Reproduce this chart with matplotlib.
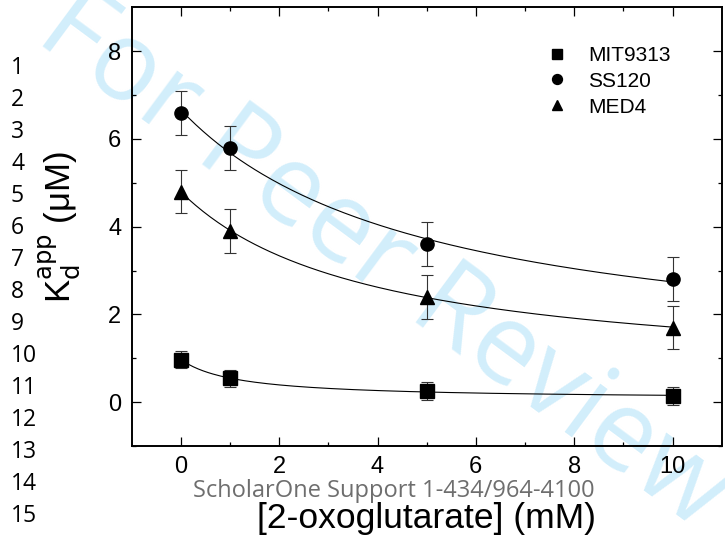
import numpy as np
import matplotlib.pyplot as plt
from matplotlib.lines import Line2D

# Data
conc = np.array([0, 1, 5, 10])  # [2-oxoglutarate] (mM)

kd_mit9313 = np.array([0.97, 0.54, 0.25, 0.14])
err_mit9313 = np.array([0.2, 0.2, 0.2, 0.2])

kd_ss120 = np.array([6.6, 5.8, 3.6, 2.8])
err_ss120 = np.array([0.5, 0.5, 0.5, 0.5])

kd_med4 = np.array([4.8, 3.9, 2.4, 1.7])
err_med4 = np.array([0.5, 0.5, 0.5, 0.5])

strains = ['MIT9313', 'SS120', 'MED4']
markers = ['s', 'o', '^']
line_numbers = [str(i) for i in range(1, 16)]

AX_FONT = 'Liberation Sans'
PAGE_FONT = 'Open Sans'


def fit_hyperbola(x, y):
    # y = c + A / (1 + x/K), grid over K, linear least squares for c, A
    best = None
    for K in np.linspace(0.05, 30, 3000):
        X = np.column_stack([np.ones_like(x, dtype=float), 1.0 / (1.0 + x / K)])
        coef = np.linalg.lstsq(X, y, rcond=None)[0]
        sse = np.sum((X @ coef - y) ** 2)
        if best is None or sse < best[0]:
            best = (sse, K, coef)
    _, K, (c, A) = best
    return lambda t: c + A / (1.0 + t / K)


fig = plt.figure(figsize=(7.25, 5.37), dpi=100)

# watermark behind everything
fig.text(0.528, 0.512, 'For Peer Review', rotation=-36.5, ha='center', va='center',
         fontsize=80, color='#d2eefb', family=PAGE_FONT, zorder=0)

ax = fig.add_axes([0.1817, 0.1695, 0.8137, 0.8169])
ax.patch.set_visible(False)
ax.set_zorder(1)

xs = np.linspace(0, 10, 200)
handles = []
for kd, err, m, name in zip([kd_mit9313, kd_ss120, kd_med4],
                            [err_mit9313, err_ss120, err_med4], markers, strains):
    f = fit_hyperbola(conc, kd)
    ax.plot(xs, f(xs), color='black', lw=0.8, zorder=2)
    ax.errorbar(conc, kd, yerr=err, fmt='none', ecolor='#333333', elinewidth=0.8,
                capsize=4, capthick=0.8, zorder=3)
    ms = 10 if m == '^' else 9.5
    ax.plot(conc, kd, ls='none', marker=m, ms=ms, color='black', zorder=4)
    handles.append(Line2D([], [], ls='none', marker=m, ms=ms, color='black', label=name))

ax.set_xlim(-1, 11)
ax.set_ylim(-1, 9)
ax.set_xticks([0, 2, 4, 6, 8, 10])
ax.set_xticks([1, 3, 5, 7, 9], minor=True)
ax.set_yticks([0, 2, 4, 6, 8])
ax.set_yticks([-1, 1, 3, 5, 7], minor=True)

ax.tick_params(which='both', direction='in', top=True, right=True, width=0.9)
ax.tick_params(which='major', length=6.5, pad=7.5, labelsize=17)
ax.tick_params(which='minor', length=3.2)
for lab in ax.get_xticklabels() + ax.get_yticklabels():
    lab.set_family(AX_FONT)
for sp in ax.spines.values():
    sp.set_linewidth(1.4)

ax.set_xlabel('[2-oxoglutarate] (mM)', fontsize=25.5, family=AX_FONT, labelpad=17)
ax.set_ylabel(r'K$_\mathrm{d}^\mathrm{app}$ (μM)', fontsize=25, family=AX_FONT,
              labelpad=19)

leg = ax.legend(handles=handles, loc='upper left', bbox_to_anchor=(0.703, 0.912),
                frameon=False, markerscale=0.75, handlelength=1.0,
                handletextpad=1.0, labelspacing=0.33, borderpad=0, borderaxespad=0,
                prop={'family': AX_FONT, 'size': 15})

# page furniture: line numbers and support footer
for i, s in enumerate(line_numbers):
    fig.text(11 / 725, 1 - (68 + 32.0 * i) / 537, s, ha='left', va='center',
             fontsize=16.5, family=PAGE_FONT, color='black')
fig.text(394 / 725, 1 - 491 / 537, 'ScholarOne Support 1-434/964-4100', ha='center',
         va='center', fontsize=17, family=PAGE_FONT, color='#6e6e6e', zorder=5)

fig.savefig('out.png', dpi=100)
